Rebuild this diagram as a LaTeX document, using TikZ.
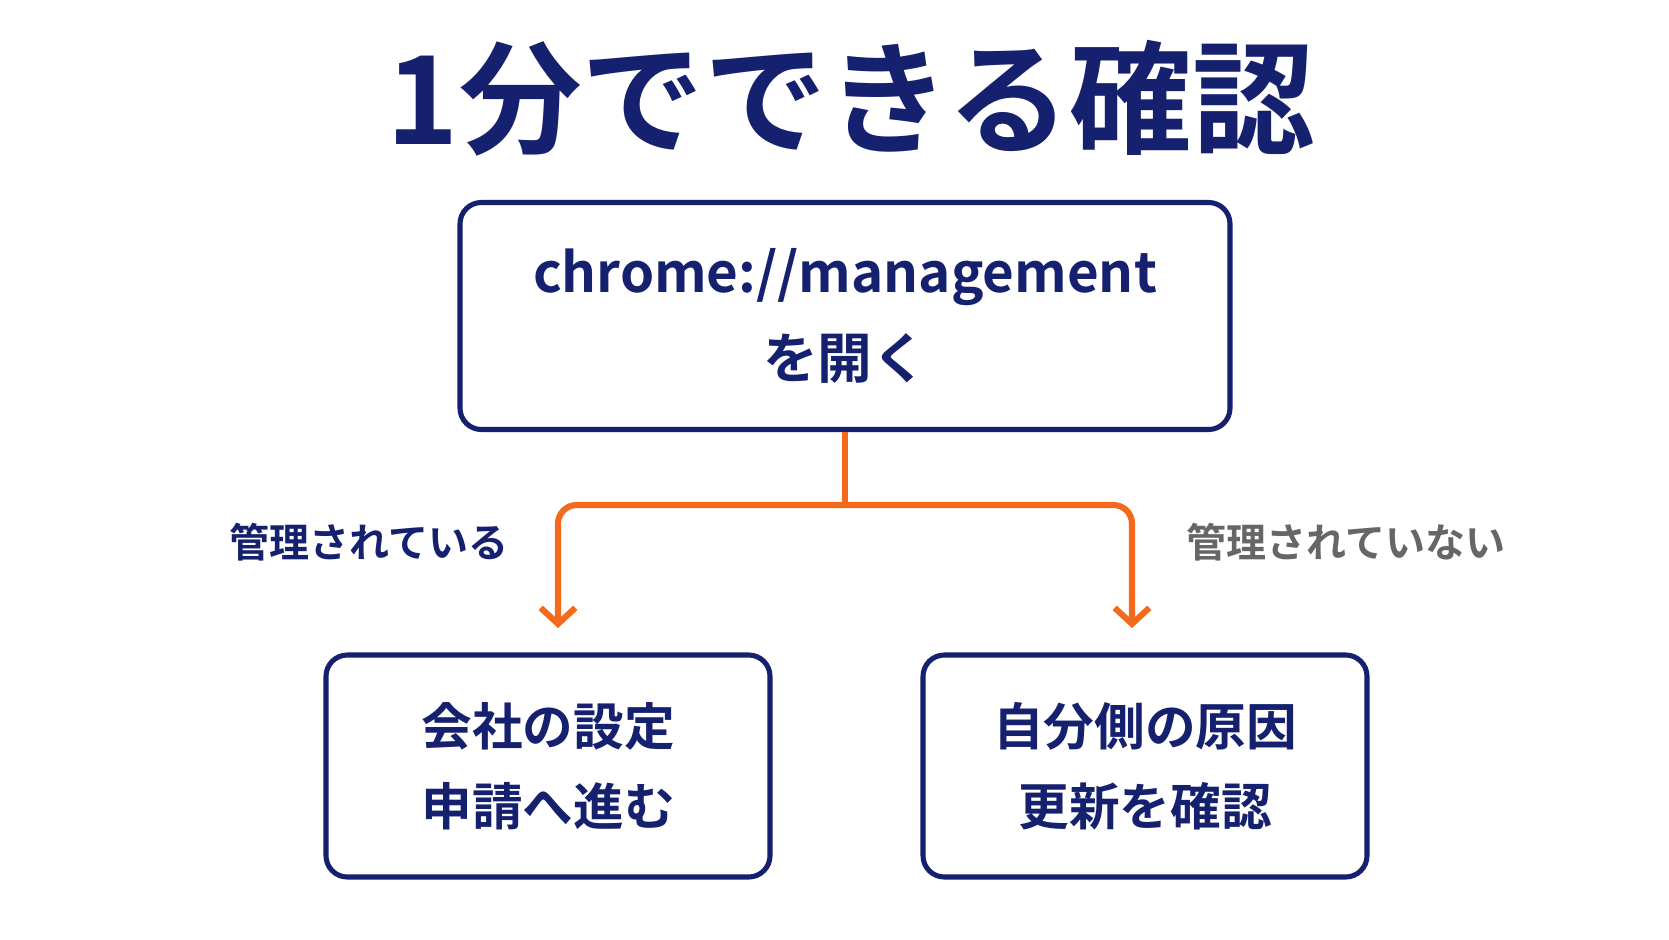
\documentclass[tikz,border=0pt]{standalone}
\usepackage{fontspec}
\setmainfont{Noto Sans CJK JP}[BoldFont={* Bold}]
\usetikzlibrary{arrows.meta}
\definecolor{navy}{HTML}{15206F}
\definecolor{accent}{HTML}{F36A1C}
\definecolor{soft}{HTML}{666666}
\tikzset{
  stepbox/.style={draw=navy, line width=3.8pt, rounded corners=16pt, fill=white,
               text=navy, font=\fontsize{38}{60}\selectfont\bfseries, align=center},
  branch/.style={draw=accent, line width=4.6pt, rounded corners=14pt},
  tip/.style={-{Straight Barb[length=12pt,width=26pt,line width=4.6pt]}}
}
\begin{document}
\begin{tikzpicture}[x=0.75pt,y=-0.75pt]
    \useasboundingbox (0,0) rectangle (1669,939);
    \fill [white!97!blue!2] (0,0) rectangle (1669,939);

    % title
    \node (title) at (851,98) [text=navy, font=\fontsize{92}{96}\selectfont\bfseries] {1分でできる確認};

    % boxes
    \node (open) [stepbox, font=\fontsize{41}{64}\selectfont\bfseries,
                  minimum width=770*0.75pt, minimum height=227*0.75pt] at (845,316)
          {chrome://management\\を開く};
    \node (corp) [stepbox, minimum width=444*0.75pt, minimum height=222*0.75pt] at (548,766)
          {会社の設定\\申請へ進む};
    \node (self) [stepbox, minimum width=444*0.75pt, minimum height=222*0.75pt] at (1145,766)
          {自分側の原因\\更新を確認};

    % branch labels
    \node (yes) at (369,542) [text=navy, font=\fontsize{30}{30}\selectfont\bfseries] {管理されている};
    \node (no) at (1346,542) [text=soft, font=\fontsize{30}{30}\selectfont\bfseries] {管理されていない};

    % connectors
    \coordinate (fork) at (845,505);
    \draw [branch] (open.south) -- (fork);
    \draw [branch, tip] (fork) -- (558,505) -- (558,628);
    \draw [branch, tip] (fork) -- (1132,505) -- (1132,628);
\end{tikzpicture}
\end{document}
